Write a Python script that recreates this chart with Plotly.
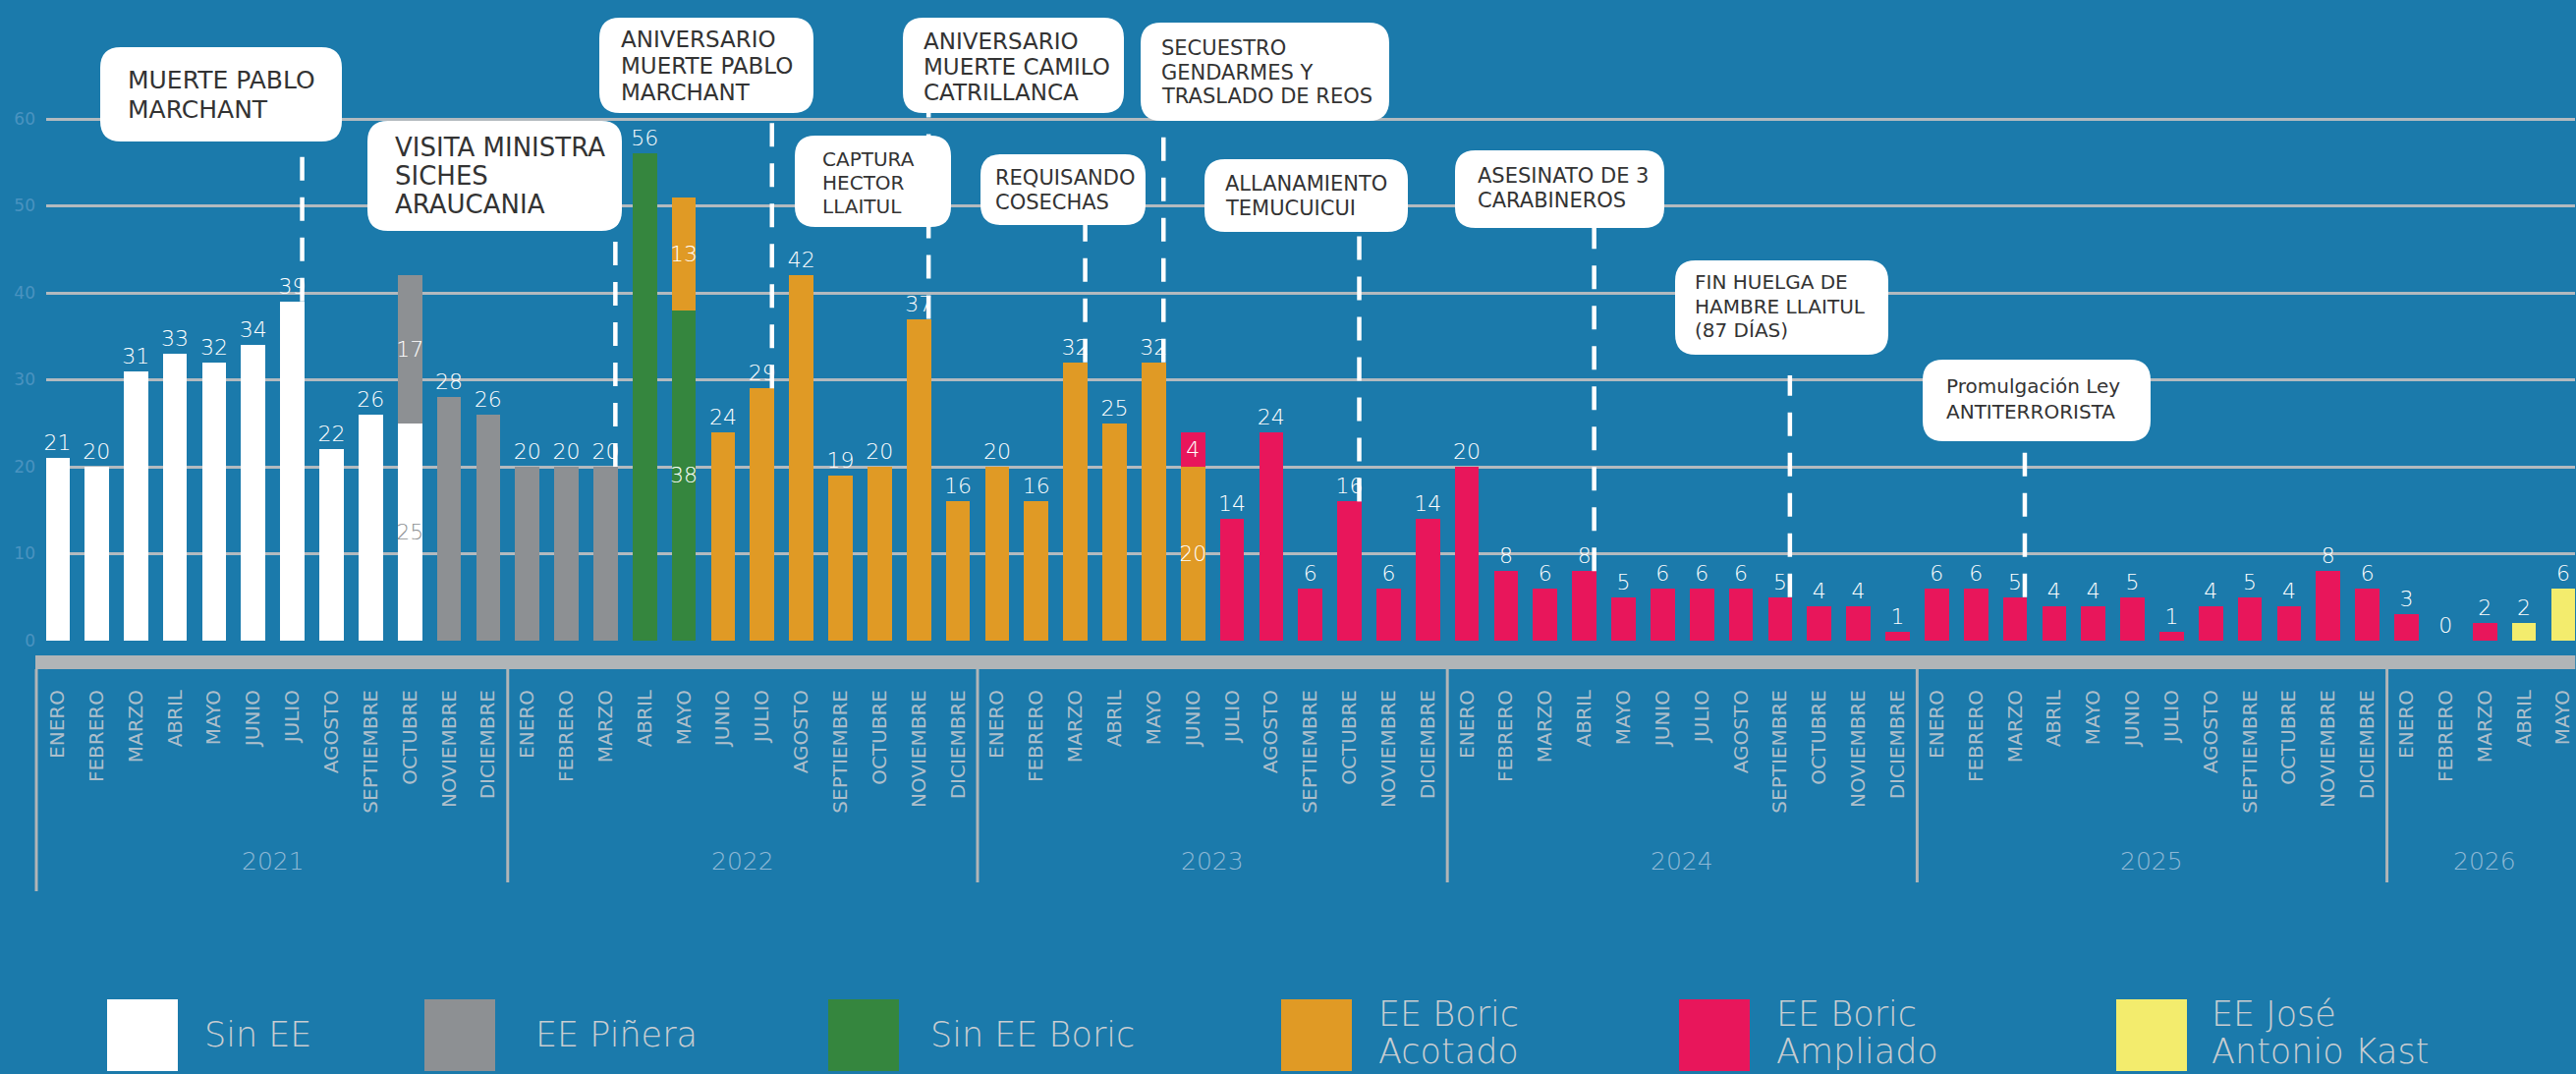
import plotly.graph_objects as go

# ---------------- data ----------------
months = ["ENERO", "FEBRERO", "MARZO", "ABRIL", "MAYO", "JUNIO", "JULIO",
          "AGOSTO", "SEPTIEMBRE", "OCTUBRE", "NOVIEMBRE", "DICIEMBRE"]
years = ["2021", "2022", "2023", "2024", "2025", "2026"]
months_per_year = [12, 12, 12, 12, 12, 5]

# values per series (consecutive months, starting at the given month index)
sin_ee = [21, 20, 31, 33, 32, 34, 39, 22, 26, 25]                 # from ENE 2021
ee_pinera = [17, 28, 26, 20, 20, 20]                               # from OCT 2021
sin_ee_boric = [56, 38]                                            # from ABR 2022
ee_boric_acotado = [13, 24, 29, 42, 19, 20, 37, 16,                # from MAY 2022
                    20, 16, 32, 25, 32, 20]
ee_boric_ampliado = [4, 14, 24, 6, 16, 6, 14,                      # from JUN 2023
                     20, 8, 6, 8, 5, 6, 6, 6, 5, 4, 4, 1,
                     6, 6, 5, 4, 4, 5, 1, 4, 5, 4, 8, 6,
                     3, 0, 2]
ee_kast = [2, 6]                                                   # from ABR 2026

series = [
    ("Sin EE", sin_ee, 0, "#ffffff"),
    ("EE Piñera", ee_pinera, 9, "#8d9093"),
    ("Sin EE Boric", sin_ee_boric, 15, "#35863e"),
    ("EE Boric Acotado", ee_boric_acotado, 16, "#e09a25"),
    ("EE Boric Ampliado", ee_boric_ampliado, 29, "#e8165b"),
    ("EE José Antonio Kast", ee_kast, 63, "#f3ec6d"),
]

events = [  # (text lines, month index of the event)
    (["MUERTE PABLO", "MARCHANT"], 6),
    (["VISITA MINISTRA", "SICHES", "ARAUCANIA"], 14),
    (["ANIVERSARIO", "MUERTE PABLO", "MARCHANT"], 18),
    (["CAPTURA", "HECTOR", "LLAITUL"], None),
    (["ANIVERSARIO", "MUERTE CAMILO", "CATRILLANCA"], 22),
    (["REQUISANDO", "COSECHAS"], 26),
    (["SECUESTRO", "GENDARMES Y", "TRASLADO DE REOS"], 28),
    (["ALLANAMIENTO", "TEMUCUICUI"], 33),
    (["ASESINATO DE 3", "CARABINEROS"], 39),
    (["FIN HUELGA DE", "HAMBRE LLAITUL", "(87 DÍAS)"], 44),
    (["Promulgación Ley", "ANTITERRORISTA"], 50),
]

# ---------------- layout constants ----------------
W, H = 2622, 1093
BG = "#1b7aab"
FONT = "DejaVu Sans"
L, R, T, B = 47, 1, 0, 431
PW, PH = W - L - R, H - T - B
PB = T + PH                       # plot bottom in px
X0PX, XSTEP = 58.5, 39.85         # px of month 0, px per month
Y0PX, YSTEP = 652.0, 8.85         # px of value 0, px per unit

def px2x(px):
    return (px - X0PX) / XSTEP

def x2px(x):
    return X0PX + XSTEP * x

def py2y(py):
    return (Y0PX - py) / YSTEP

def pxp(px):
    return (px - L) / PW

def pyp(py):
    return (PB - py) / PH

N = sum(months_per_year)
tick_labels = [m for n in months_per_year for m in months[:n]]

# full arrays
full = []
for name, vals, start, color in series:
    arr = [None] * N
    for i, v in enumerate(vals):
        arr[start + i] = v
    full.append(arr)

count = [sum(1 for arr in full if arr[i] is not None) for i in range(N)]
totals = [sum(arr[i] for arr in full if arr[i] is not None) for i in range(N)]

fig = go.Figure()
for (name, vals, start, color), arr in zip(series, full):
    pos, txtcol = [], []
    for i in range(N):
        if count[i] > 1:
            pos.append("inside")
            txtcol.append("#8d9093" if color == "#ffffff" else "#ffffff")
        else:
            pos.append("outside")
            txtcol.append("#ffffff")
    fig.add_trace(go.Bar(
        x=list(range(N)), y=arr, name=name,
        marker=dict(color=color, line=dict(width=0)),
        width=0.62,
        text=[("" if v is None else str(v)) for v in arr],
        textposition=pos, textangle=0, constraintext="none",
        insidetextanchor="middle",
        textfont=dict(family=FONT, size=22, color=txtcol, weight=300),
        cliponaxis=False, showlegend=False, hoverinfo="skip",
    ))

shapes = []
annotations = []

# dashed event lines (from bar top up to the callout box)
line_tops = {6: 144, 14: 228, 18: 115, 22: 115, 26: 229, 28: 123, 33: 240,
             39: 232, 44: 382, 50: 455}
for lines, idx in events:
    if idx is None:
        continue
    shapes.append(dict(type="line", xref="x", yref="y",
                       x0=idx + 0.25, x1=idx + 0.25,
                       y0=totals[idx], y1=py2y(line_tops[idx]),
                       line=dict(color="#ffffff", width=4.5, dash="24px,17px"),
                       layer="above"))

# callout boxes: (x0, y0, x1, y1, text-left, first-line y, line step, font size)
boxes = [
    (102, 48, 348, 144, 128, 82, 29, 25),
    (374, 123, 633, 235, 400, 150, 29, 26),
    (610, 18, 828, 115, 630, 40, 27, 23),
    (809, 138, 968, 231, 835, 162, 24, 20),
    (919, 18, 1144, 115, 938, 42, 26, 23),
    (998, 157, 1166, 229, 1011, 181, 25, 21),
    (1161, 23, 1414, 123, 1180, 49, 24.5, 21),
    (1226, 162, 1433, 236, 1245, 187, 25, 21),
    (1481, 153, 1694, 232, 1502, 179, 25, 21),
    (1705, 265, 1922, 361, 1723, 287, 24.5, 20),
    (1957, 366, 2189, 449, 1979, 393, 25.5, 20),
]

def P(px, py):
    return f"{pxp(px):.5f},{pyp(py):.5f}"

for (lines, idx), (x0, y0, x1, y1, tx, ty, step, fs) in zip(events, boxes):
    r = 21
    path = (f"M {P(x0 + r, y0)} L {P(x1 - r, y0)} Q {P(x1, y0)} {P(x1, y0 + r)} "
            f"L {P(x1, y1 - r)} Q {P(x1, y1)} {P(x1 - r, y1)} "
            f"L {P(x0 + r, y1)} Q {P(x0, y1)} {P(x0, y1 - r)} "
            f"L {P(x0, y0 + r)} Q {P(x0, y0)} {P(x0 + r, y0)} Z")
    shapes.append(dict(type="path", xref="paper", yref="paper", path=path,
                       fillcolor="#ffffff", line=dict(width=0), layer="above"))
    for k, ln in enumerate(lines):
        annotations.append(dict(
            xref="paper", yref="paper", x=pxp(tx), y=pyp(ty + k * step),
            xanchor="left", yanchor="middle", showarrow=False, text=ln,
            font=dict(family=FONT, size=fs, color="#333333")))

# x-axis decorations: grey band and year separators
BANDC = "#b1b5b7"
shapes.append(dict(type="rect", xref="paper", yref="paper",
                   x0=pxp(36), x1=pxp(x2px(N - 1 + 0.31)), y0=pyp(667), y1=pyp(681),
                   fillcolor=BANDC, line=dict(width=0), layer="above"))
seps = [(37, 907)]
acc = 0
for n in months_per_year[:-1]:
    acc += n
    seps.append((x2px(acc - 0.5), 898))
for sx, ybot in seps:
    shapes.append(dict(type="line", xref="paper", yref="paper",
                       x0=pxp(sx), x1=pxp(sx), y0=pyp(681), y1=pyp(ybot),
                       line=dict(color=BANDC, width=3), layer="above"))

# year labels
acc = 0
for yr, n in zip(years, months_per_year):
    center = acc + (n - 1) / 2
    acc += n
    annotations.append(dict(xref="x", yref="paper", x=center, y=pyp(877),
                            text=yr, showarrow=False, xanchor="center", yanchor="middle",
                            font=dict(family=FONT, size=25, color="#8fb9d6", weight=300)))

# custom legend
legend_items = [  # (label lines, colour, square left px, text left px)
    (["Sin EE"], "#ffffff", 109, 206),
    (["EE Piñera"], "#8d9093", 432, 543),
    (["Sin EE Boric"], "#35863e", 843, 945),
    (["EE Boric", "Acotado"], "#e09a25", 1304, 1401),
    (["EE Boric", "Ampliado"], "#e8165b", 1709, 1806),
    (["EE José", "Antonio Kast"], "#f3ec6d", 2154, 2249),
]
for lines, color, sx, tx in legend_items:
    shapes.append(dict(type="rect", xref="paper", yref="paper",
                       x0=pxp(sx), x1=pxp(sx + 72), y0=pyp(1017), y1=pyp(1090),
                       fillcolor=color, line=dict(width=0)))
    ys = [1053] if len(lines) == 1 else [1032, 1070]
    for ln, yy in zip(lines, ys):
        annotations.append(dict(xref="paper", yref="paper", x=pxp(tx), y=pyp(yy),
                                text=ln, showarrow=False, xanchor="left", yanchor="middle",
                                font=dict(family=FONT, size=35, color="#c9cdd1", weight=300)))

fig.update_layout(
    width=W, height=H,
    margin=dict(l=L, r=R, t=T, b=B, autoexpand=False),
    paper_bgcolor=BG, plot_bgcolor=BG,
    barmode="stack", bargap=0.38,
    showlegend=False,
    shapes=shapes, annotations=annotations,
    font=dict(family=FONT),
    xaxis=dict(
        range=[px2x(L), px2x(W - R)],
        tickmode="array", tickvals=list(range(N)), ticktext=tick_labels,
        tickangle=-90, ticks="", showgrid=False, zeroline=False, showline=False,
        tickfont=dict(family=FONT, size=20, color="#aebfcb"),
        ticklabelstandoff=35, automargin=False,
    ),
    yaxis=dict(
        range=[py2y(PB), py2y(T)],
        tickmode="array", tickvals=[0, 10, 20, 30, 40, 50, 60],
        showgrid=True, gridcolor="#b3babf", gridwidth=2.5,
        zeroline=True, zerolinecolor=BG, zerolinewidth=2,
        showline=False, ticks="",
        tickfont=dict(family=FONT, size=17, color="#4a93c0"),
        ticklabelstandoff=10, automargin=False,
    ),
)

fig.write_html(
    "out.html",
    config={"displayModeBar": False},
    post_script="document.body.style.margin='0px';"
                "document.documentElement.style.overflow='hidden';"
                "document.body.style.overflow='hidden';",
)
